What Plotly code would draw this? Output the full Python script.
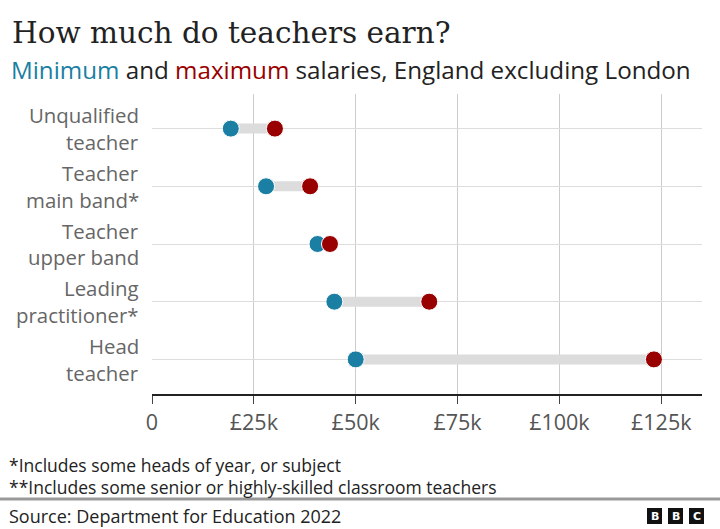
import plotly.graph_objects as go

categories = ["Unqualified<br>teacher", "Teacher<br>main band*", "Teacher<br>upper band",
              "Leading<br>practitioner*", "Head<br>teacher"]
min_salary = [19340, 28000, 40625, 44756, 50000]
max_salary = [30172, 38810, 43685, 68055, 123200]
tick_vals = [0, 25000, 50000, 75000, 100000, 125000]
tick_text = ["0", "£25k", "£50k", "£75k", "£100k", "£125k"]

TEAL = "#1b7fa3"
RED = "#990000"
SANS = "Open Sans, Noto Sans, sans-serif"

W, H = 720, 529
L, R, T, B = 152, 18, 94, 135
PW, PH = W - L - R, H - T - B

def px(x):
    return (x - L) / PW

def py(y):
    return (H - B - y) / PH

fig = go.Figure()

# connectors
cx, cy = [], []
for c, a, b in zip(categories, min_salary, max_salary):
    cx += [a, b, None]
    cy += [c, c, None]
fig.add_trace(go.Scatter(x=cx, y=cy, mode="lines",
                         line=dict(color="#dcdcdc", width=10),
                         hoverinfo="skip", showlegend=False))
fig.add_trace(go.Scatter(x=min_salary, y=categories, mode="markers", name="Minimum",
                         marker=dict(color=TEAL, size=17, line=dict(color="white", width=1)),
                         showlegend=False))
fig.add_trace(go.Scatter(x=max_salary, y=categories, mode="markers", name="Maximum",
                         marker=dict(color=RED, size=17, line=dict(color="white", width=1)),
                         showlegend=False))

fig.update_xaxes(range=[0, 135000], tickvals=tick_vals, ticktext=tick_text,
                 showgrid=True, gridcolor="#cccccc", gridwidth=1, zeroline=False,
                 showline=True, linecolor="#222222", linewidth=2,
                 ticks="outside", ticklen=8, tickcolor="#444444", tickwidth=1,
                 tickfont=dict(family=SANS, size=21.5, color="#555555"))
fig.update_yaxes(categoryorder="array", categoryarray=categories,
                 range=[4.6, -0.6], showgrid=True, gridcolor="#dddddd", gridwidth=1,
                 zeroline=False, showline=False, ticks="", showticklabels=False)

annotations = [
    dict(x=px(10), y=py(33), xref="paper", yref="paper", xanchor="left", yanchor="middle",
         text="How much do teachers earn?", showarrow=False,
         font=dict(family="DejaVu Serif, serif", size=29.5, color="#222222")),
    dict(x=px(9), y=py(69), xref="paper", yref="paper", xanchor="left", yanchor="middle",
         text=f"<span style='color:{TEAL}'>Minimum</span> and <span style='color:{RED}'>maximum</span> salaries, England excluding London",
         showarrow=False, font=dict(family=SANS, size=24.2, color="#222222")),
    dict(x=px(7), y=py(465), xref="paper", yref="paper", xanchor="left", yanchor="middle",
         text="*Includes some heads of year, or subject", showarrow=False,
         font=dict(family=SANS, size=17.5, color="#222222")),
    dict(x=px(7), y=py(487), xref="paper", yref="paper", xanchor="left", yanchor="middle",
         text="**Includes some senior or highly-skilled classroom teachers", showarrow=False,
         font=dict(family=SANS, size=17.5, color="#222222")),
    dict(x=px(7), y=py(516), xref="paper", yref="paper", xanchor="left", yanchor="middle",
         text="Source: Department for Education 2022", showarrow=False,
         font=dict(family=SANS, size=18, color="#222222")),
]

# category labels, two lines each, right-aligned
for c in categories:
    lines = c.split("<br>")
    for j, line in enumerate(lines):
        annotations.append(dict(x=px(141), y=c, xref="paper", yref="y",
                                xanchor="right", yanchor="middle", text=line,
                                yshift=13.3 - 26.6 * j, showarrow=False,
                                font=dict(family=SANS, size=20.4, color="#666666")))

shapes = [
    dict(type="line", xref="paper", yref="paper", x0=px(0), x1=px(720), y0=py(499), y1=py(499),
         line=dict(color="#999999", width=3)),
]
for i, letter in enumerate(["B", "B", "C"]):
    x0 = 647 + i * 21
    shapes.append(dict(type="rect", xref="paper", yref="paper",
                       x0=px(x0), x1=px(x0 + 15), y0=py(524), y1=py(508),
                       fillcolor="#111111", line=dict(width=0)))
    annotations.append(dict(x=px(x0 + 7.5), y=py(516), xref="paper", yref="paper",
                            xanchor="center", yanchor="middle", text=f"<b>{letter}</b>",
                            showarrow=False, font=dict(family="DejaVu Sans", size=11, color="white")))

fig.update_layout(width=W, height=H, margin=dict(l=L, r=R, t=T, b=B),
                  paper_bgcolor="white", plot_bgcolor="white",
                  annotations=annotations, shapes=shapes, showlegend=False)

fig.write_html("out.html", config={"displayModeBar": False},
               post_script="document.body.style.margin='0px';")
